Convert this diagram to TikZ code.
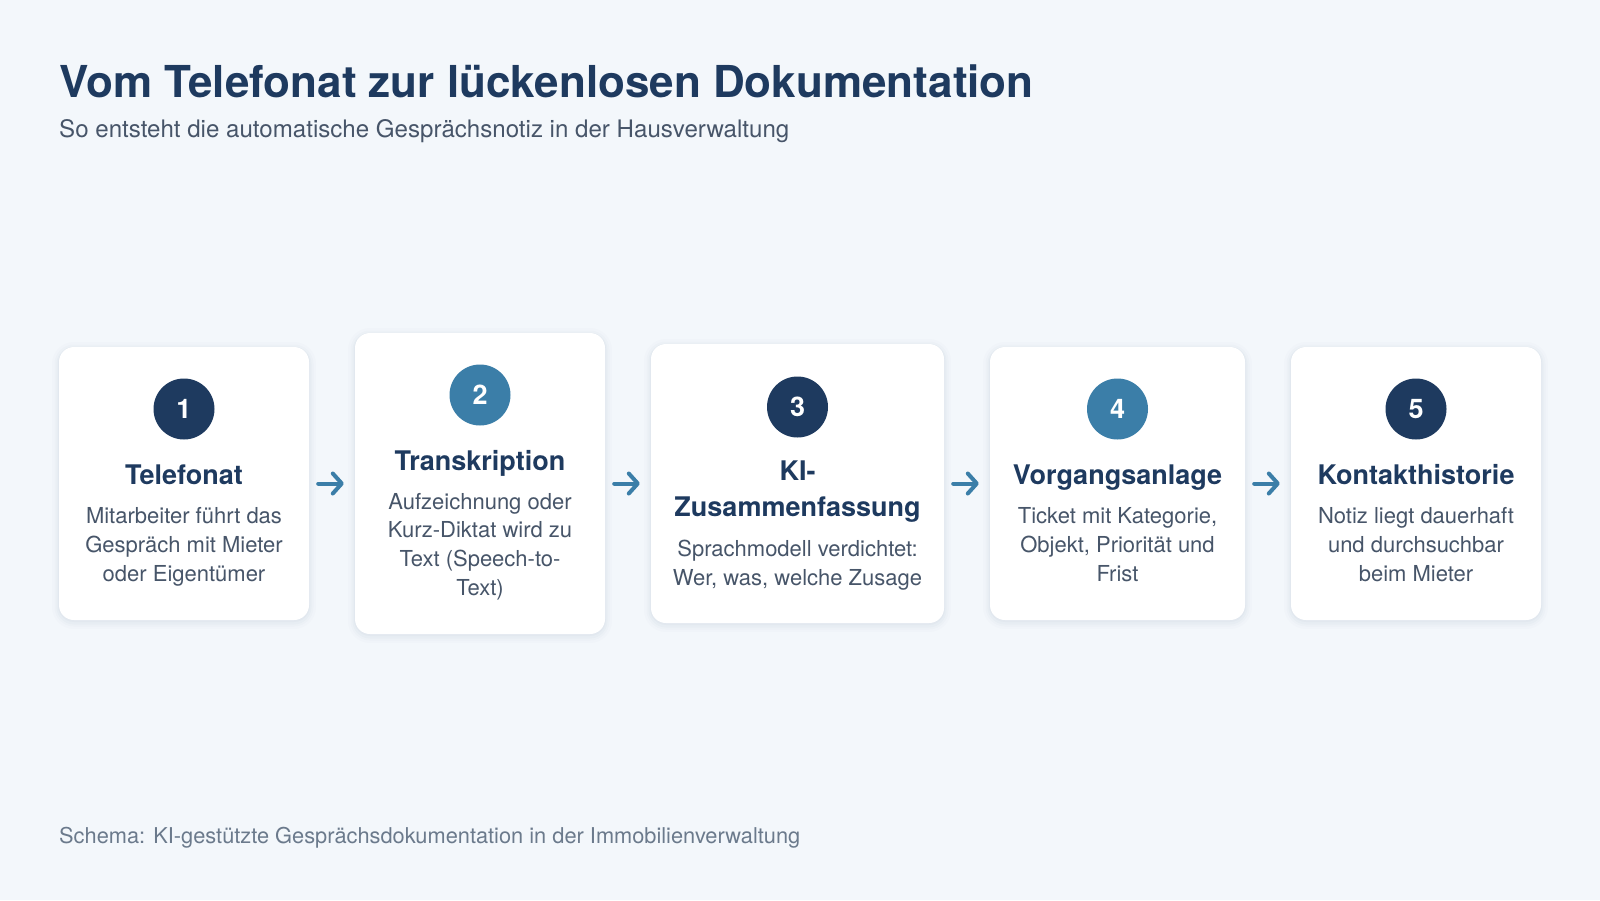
\documentclass[tikz,border=0pt]{standalone}
\usepackage{fontspec}
\setmainfont{TeX Gyre Heros}
\usetikzlibrary{arrows.meta}

\definecolor{bgcol}{HTML}{F3F7FB}
\definecolor{navy}{HTML}{1E3A5F}
\definecolor{steel}{HTML}{3B7EA8}
\definecolor{bodytxt}{HTML}{475569}
\definecolor{foottxt}{HTML}{6B7A8C}

\tikzset{
  % soft shadow: stacked transparent strokes round the card
  softedge/.style={preaction={draw=navy, draw opacity=#1, line width=14pt, transform canvas={yshift=-2pt}}},
  card/.style={fill=white, draw=none, rounded corners=15pt, inner sep=0pt,
    softedge=0.012,
    preaction={draw=navy, draw opacity=0.014, line width=9pt, transform canvas={yshift=-2pt}},
    preaction={draw=navy, draw opacity=0.018, line width=5pt, transform canvas={yshift=-2pt}},
    preaction={draw=navy, draw opacity=0.022, line width=2pt, transform canvas={yshift=-1pt}}},
  badge/.style={circle, inner sep=0pt, minimum size=61pt, text=white,
    font=\fontsize{27}{27}\selectfont\bfseries},
  darkbadge/.style={badge, fill=navy},
  lightbadge/.style={badge, fill=steel},
  steptitle/.style={anchor=base, inner sep=0pt, text=navy, align=center,
    font=\fontsize{27}{36}\selectfont\bfseries},
  stepdesc/.style={anchor=base, inner sep=0pt, text=bodytxt, align=center,
    font=\fontsize{22}{28.6}\selectfont},
  flow/.style={draw=steel, line width=4pt, line cap=round,
    -{Straight Barb[length=9pt,width=20pt,round]}}
}

\begin{document}
\begin{tikzpicture}[x=1pt, y=-1pt]
    % Background
    \fill[bgcol] (0,0) rectangle (1600,900);
    \useasboundingbox (0,0) rectangle (1600,900);

    % Heading
    \node[anchor=base west, inner sep=0pt, text=navy, font=\fontsize{44}{44}\selectfont\bfseries]
      (title) at (59,97) {Vom Telefonat zur lückenlosen Dokumentation};
    \node[anchor=base west, inner sep=0pt, text=bodytxt, font=\fontsize{24.1}{24.1}\selectfont]
      (subtitle) at (59,137) {So entsteht die automatische Gesprächsnotiz in der Hausverwaltung};

    % Cards
    \node[card, minimum width=250pt, minimum height=273pt] (telefonat) at (184,483.5) {};
    \node[card, minimum width=250pt, minimum height=301pt] (transkription) at (480,483.5) {};
    \node[card, minimum width=293pt, minimum height=279pt] (zusammenfassung) at (797.5,483.5) {};
    \node[card, minimum width=255pt, minimum height=273pt] (vorgang) at (1117.5,483.5) {};
    \node[card, minimum width=250pt, minimum height=273pt] (historie) at (1416,483.5) {};

    % Step 1
    \node[darkbadge] (n1) at (184,409) {1};
    \node[steptitle] (t1) at (184,484) {Telefonat};
    \node[stepdesc] (d1) at (184,581) {Mitarbeiter führt das\\Gespräch mit Mieter\\oder Eigentümer};

    % Step 2
    \node[lightbadge] (n2) at (480,395) {2};
    \node[steptitle] (t2) at (480,470) {Transkription};
    \node[stepdesc] (d2) at (480,595) {Aufzeichnung oder\\Kurz-Diktat wird zu\\Text (Speech-to-\\Text)};

    % Step 3
    \node[darkbadge] (n3) at (797.5,407) {3};
    \node[steptitle] (t3) at (797.5,516) {KI-\\Zusammenfassung};
    \node[stepdesc] (d3) at (797.5,585) {Sprachmodell verdichtet:\\Wer, was, welche Zusage};

    % Step 4
    \node[lightbadge] (n4) at (1117.5,409) {4};
    \node[steptitle] (t4) at (1117.5,484) {Vorgangsanlage};
    \node[stepdesc] (d4) at (1117.5,581) {Ticket mit Kategorie,\\Objekt, Priorität und\\Frist};

    % Step 5
    \node[darkbadge] (n5) at (1416,409) {5};
    \node[steptitle] (t5) at (1416,484) {Kontakthistorie};
    \node[stepdesc] (d5) at (1416,581) {Notiz liegt dauerhaft\\und durchsuchbar\\beim Mieter};

    % Edges
    \draw[flow] ([xshift=9pt]telefonat.east) -- ([xshift=-11pt]transkription.west);
    \draw[flow] ([xshift=9pt]transkription.east) -- ([xshift=-11pt]zusammenfassung.west);
    \draw[flow] ([xshift=9pt]zusammenfassung.east) -- ([xshift=-11pt]vorgang.west);
    \draw[flow] ([xshift=9pt]vorgang.east) -- ([xshift=-11pt]historie.west);

    % Footer
    \node[anchor=base west, inner sep=0pt, text=foottxt, font=\fontsize{21.8}{21.8}\selectfont]
      (footer) at (59,843) {Schema: KI-gestützte Gesprächsdokumentation in der Immobilienverwaltung};
\end{tikzpicture}
\end{document}
